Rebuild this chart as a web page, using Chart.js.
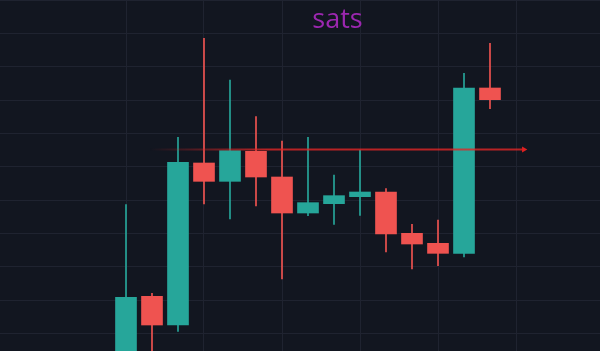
<!DOCTYPE html>
<html>
<head>
<meta charset="utf-8">
<script src="https://cdn.jsdelivr.net/npm/chart.js@4.4.1/dist/chart.umd.min.js"></script>
<style>
html,body{margin:0;padding:0;background:#121620;overflow:hidden}
#wrap{width:600px;height:351px;position:relative}
canvas{display:block}
</style>
</head>
<body>
<div id="wrap"><canvas id="c" width="600" height="351"></canvas></div>
<script>
// ---- data (price axis is hidden, units arbitrary) ----
const slots  = [0, 1, 2, 3, 4, 5, 6, 7, 8, 9, 10, 11, 12, 13, 14];
const opens  = [-9.5, 11.1,  2.5, 51.1, 45.6, 54.6, 46.9, 36.1, 38.9, 41.0, 42.4, 30.0, 27.0, 24.0, 73.6];
const highs  = [38.6, 12.0, 58.8, 88.5, 76.0, 65.0, 57.7, 58.8, 47.5, 55.0, 43.4, 32.7, 34.0, 78.0, 87.0];
const lows   = [-12.5, -8.0, 0.6, 38.8, 34.3, 38.2, 16.3, 35.3, 32.7, 35.4, 24.4, 19.3, 20.3, 22.9, 67.4];
const closes = [10.8,  2.5, 51.3, 45.6, 54.8, 46.9, 36.1, 39.2, 41.3, 42.4, 29.8, 26.8, 24.0, 73.6, 70.1];
const priceTicks = [0, 10, 20, 30, 40, 50, 60, 70, 80, 90, 100];
const slotTicks  = [0, 3, 6, 9, 12, 15];
const levelPrice = 55.15;
const levelFrom  = 0.92;
const levelTo    = 15.3;
const titleText  = 'sats';

// ---- styles ----
const UP = '#26a69a', DOWN = '#ef5350';
const GRID = '#1f2330';
const LEVEL = 'rgba(225,38,38,0.8)';

const isUp = i => closes[i] >= opens[i];

const titlePlugin = {
  id: 'watermarkTitle',
  beforeDatasetsDraw(chart) {
    const c = chart.ctx;
    c.save();
    c.font = '27px "Open Sans"';
    c.fillStyle = '#9c27b0';
    c.textAlign = 'center';
    c.textBaseline = 'alphabetic';
    c.fillText(titleText, 337.5, 27.5);
    c.restore();
  }
};

new Chart(document.getElementById('c'), {
  type: 'bar',
  data: {
    datasets: [
      {
        type: 'line',
        label: 'level',
        data: [{x: levelFrom, y: levelPrice}, {x: levelTo, y: levelPrice}],
        borderWidth: 2,
        borderColor: (ctx) => {
          const chart = ctx.chart;
          if (!chart.chartArea) return LEVEL;
          const xs = chart.scales.x;
          const g = chart.ctx.createLinearGradient(xs.getPixelForValue(levelFrom), 0, xs.getPixelForValue(levelFrom + 4.5), 0);
          g.addColorStop(0, 'rgba(225,38,38,0)');
          g.addColorStop(1, LEVEL);
          return g;
        },
        pointRadius: [0, 3.5],
        pointStyle: 'triangle',
        rotation: 90,
        pointBackgroundColor: '#e02020',
        pointBorderWidth: 0,
        fill: false,
        tension: 0
      },
      {
        label: 'body',
        data: slots.map((s, i) => ({x: s, y: [opens[i], closes[i]]})),
        backgroundColor: slots.map((s, i) => isUp(i) ? UP : DOWN),
        borderWidth: 0,
        barThickness: 21,
        grouped: false
      },
      {
        label: 'wick',
        data: slots.map((s, i) => ({x: s, y: [lows[i], highs[i]]})),
        backgroundColor: slots.map((s, i) => isUp(i) ? UP : DOWN),
        borderWidth: 0,
        barThickness: 1,
        grouped: false
      }
    ]
  },
  options: {
    responsive: false,
    animation: false,
    devicePixelRatio: 1,
    layout: {padding: 0, autoPadding: false},
    plugins: {legend: {display: false}, tooltip: {enabled: false}, title: {display: false}},
    scales: {
      x: {
        type: 'linear',
        offset: false,
        min: -126 / 26,
        max: 474 / 26,
        ticks: {display: false},
        border: {display: false},
        grid: {color: GRID, drawTicks: false, lineWidth: 1, offset: false},
        afterBuildTicks: (axis) => { axis.ticks = slotTicks.map(v => ({value: v})); }
      },
      y: {
        type: 'linear',
        min: -5.3,
        max: 100,
        ticks: {display: false},
        border: {display: false},
        grid: {color: GRID, drawTicks: false, lineWidth: 1},
        afterBuildTicks: (axis) => { axis.ticks = priceTicks.map(v => ({value: v})); }
      }
    }
  },
  plugins: [titlePlugin]
});
</script>
</body>
</html>
